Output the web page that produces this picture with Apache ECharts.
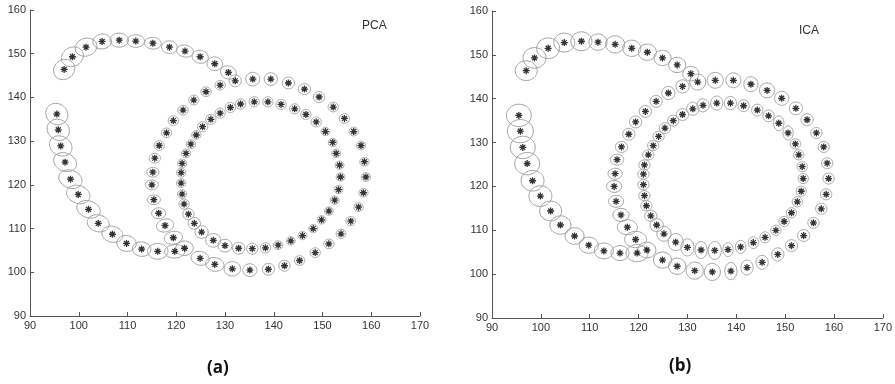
<!DOCTYPE html>
<html>
<head>
<meta charset="utf-8">
<script src="https://cdn.jsdelivr.net/npm/echarts@6/dist/echarts.min.js"></script>
<style>
  html, body { margin: 0; padding: 0; background: #fff; }
  #chart { width: 895px; height: 384px; }
</style>
</head>
<body>
<div id="chart"></div>
<script>
// estimated track (same centres in both panels): top arc, left arc, outer ring, inner ring
const trackX = [
  97.0, 98.7, 101.5, 104.8, 108.3, 111.7, 115.2, 118.6, 121.8, 124.9, 127.9, 130.7,
  95.5, 95.8, 96.3, 97.2, 98.3, 99.9, 102.0, 104.0, 106.9, 109.8, 112.9, 116.2, 119.7, 121.7,
  124.9, 127.9, 131.5, 135.1, 138.9, 142.2, 145.3, 148.5, 151.3, 153.8, 155.8, 157.4, 158.4, 158.9,
  158.6, 157.9, 156.4, 154.5, 152.2, 149.3, 146.3, 143.0, 139.4, 135.7, 132.1, 129.0, 126.1, 123.6,
  121.4, 119.4, 118.0, 116.5, 115.6, 115.2, 115.0, 115.4, 116.4, 117.7, 119.4,
  131.1, 129.0, 127.1, 125.4, 124.1, 123.0, 122.0, 121.2, 121.0, 121.0, 121.2, 121.6, 122.5, 123.7,
  125.2, 127.6, 130.0, 132.8, 135.6, 138.3, 140.9, 143.5, 145.9, 148.1, 149.8, 151.3, 152.5, 153.3,
  153.7, 153.5, 152.8, 152.1, 150.6, 148.7, 146.6, 144.3, 141.5, 138.8, 136.0, 133.2
];
const trackY = [
  146.4, 149.3, 151.5, 152.8, 153.1, 152.9, 152.4, 151.5, 150.6, 149.3, 147.7, 145.7,
  136.2, 132.6, 128.9, 125.2, 121.3, 117.8, 114.4, 111.2, 108.7, 106.6, 105.3, 104.8, 104.8, 105.5,
  103.2, 101.8, 100.8, 100.5, 100.7, 101.5, 102.7, 104.5, 106.5, 108.8, 111.7, 114.9, 118.2, 121.8,
  125.3, 129.0, 132.2, 135.2, 137.8, 140.1, 141.9, 143.3, 144.2, 144.2, 143.8, 142.8, 141.3, 139.4,
  137.1, 134.7, 131.9, 129.0, 126.1, 122.9, 120.0, 116.6, 113.5, 110.7, 107.9,
  137.7, 136.4, 135.0, 133.3, 131.4, 129.3, 127.2, 124.9, 122.8, 120.4, 117.9, 115.6, 113.3, 111.2,
  109.2, 107.3, 106.1, 105.5, 105.4, 105.6, 106.2, 107.2, 108.4, 110.0, 112.0, 114.0, 116.5, 118.9,
  121.8, 124.5, 127.2, 129.7, 132.2, 134.4, 136.1, 137.4, 138.4, 139.0, 139.0, 138.5
];

// PCA uncertainty ellipses: semi-axes (data units) and tilt (deg)
const pcaA = [
  2.4, 2.4, 2.3, 1.9, 1.9, 1.8, 1.7, 1.6, 1.75, 1.7, 1.6, 1.7,
  2.5, 2.5, 2.5, 2.5, 2.5, 2.5, 2.5, 2.3, 2.2, 2.0, 1.9, 2.1, 2.1, 1.8,
  1.9, 1.9, 1.7, 1.45, 1.25, 1.15, 1.05, 1.05, 1.05, 1.0, 1.0, 0.95, 0.95, 0.95,
  0.95, 0.95, 0.95, 1.05, 1.05, 1.15, 1.25, 1.25, 1.35, 1.45, 1.25, 1.05, 1.05, 1.05,
  1.05, 1.05, 1.05, 1.05, 1.15, 1.25, 1.35, 1.35, 1.45, 1.8, 1.9,
  1.05, 1.05, 1.05, 1.05, 0.95, 0.95, 0.95, 0.95, 0.95, 0.95, 0.95, 1.05, 1.15, 1.25,
  1.35, 1.55, 1.45, 1.25, 1.15, 1.05, 0.95, 0.9, 0.9, 0.9, 0.9, 0.9, 0.9, 0.9,
  0.9, 0.9, 0.9, 0.9, 0.9, 1.05, 1.05, 1.05, 1.05, 1.05, 1.05, 1.05
];
const pcaB = [
  2.1, 2.1, 2.0, 1.7, 1.6, 1.45, 1.35, 1.45, 1.35, 1.45, 1.55, 1.45,
  2.2, 2.2, 2.1, 2.0, 2.0, 2.0, 1.9, 1.9, 1.8, 1.8, 1.65, 1.8, 1.55, 1.65,
  1.55, 1.55, 1.65, 1.45, 1.35, 1.25, 1.1, 1.1, 1.1, 1.05, 1.05, 1.0, 1.0, 1.0,
  1.0, 1.0, 1.0, 1.1, 1.1, 1.25, 1.25, 1.35, 1.45, 1.55, 1.35, 1.1, 1.1, 1.1,
  1.1, 1.1, 1.1, 1.1, 1.1, 1.1, 1.1, 1.1, 1.25, 1.45, 1.45,
  1.15, 1.15, 1.15, 1.15, 1.0, 1.0, 1.0, 1.0, 1.0, 1.0, 1.0, 1.15, 1.25, 1.35,
  1.45, 1.55, 1.45, 1.35, 1.25, 1.15, 1.0, 0.95, 0.95, 0.95, 0.95, 0.95, 0.95, 0.95,
  0.95, 0.95, 0.95, 0.95, 0.95, 1.15, 1.15, 1.15, 1.15, 1.15, 1.15, 1.15
];
const pcaTilt = [
  60, 45, 30, 10, 0, 0, -5, -10, -15, -20, -30, -35,
  -65, -60, -45, -35, -30, -28, -25, -22, -20, -15, -8, 0, 5, 10,
  -20, -15, 0, 0, 0, 0, 0, 0, 0, 0, 0, 0, 0, 0,
  0, 0, 0, 0, 0, 0, 0, 0, 0, 0, 0, 0, 0, 0,
  0, 0, 0, 0, 0, 0, 0, 0, 0, 20, 15,
  0, 0, 0, 0, 0, 0, 0, 0, 0, 0, 0, 0, 0, 0,
  0, 0, 0, 0, 0, 0, 0, 0, 0, 0, 0, 0, 0, 0,
  0, 0, 0, 0, 0, 0, 0, 0, 0, 0, 0, 0
];

// ICA uncertainty ellipses: semi-axes (data units), axis aligned
const icaA = [
  2.25, 2.35, 2.35, 2.15, 2.15, 1.85, 1.95, 1.85, 1.85, 1.75, 1.75, 1.65,
  2.55, 2.65, 2.55, 2.55, 2.35, 2.35, 2.25, 2.15, 1.95, 1.95, 1.95, 1.85, 2.25, 1.85,
  1.85, 1.75, 1.75, 1.65, 1.25, 1.25, 1.25, 1.25, 1.25, 1.25, 1.15, 1.15, 1.15, 1.15,
  1.15, 1.15, 1.15, 1.25, 1.35, 1.45, 1.55, 1.45, 1.55, 1.65, 1.65, 1.35, 1.35, 1.25,
  1.25, 1.25, 1.25, 1.25, 1.35, 1.45, 1.55, 1.55, 1.65, 2.05, 2.25,
  1.25, 1.25, 1.15, 1.15, 1.15, 1.15, 1.15, 1.15, 1.15, 1.15, 1.15, 1.15, 1.25, 1.35,
  1.45, 1.55, 1.35, 1.25, 1.35, 1.05, 1.05, 1.05, 1.05, 1.05, 1.05, 1.05, 1.05, 1.05,
  1.05, 1.05, 1.05, 1.05, 1.05, 1.05, 1.15, 1.15, 1.15, 1.25, 1.25, 1.25
];
const icaB = [
  2.25, 2.35, 2.35, 2.15, 2.15, 1.85, 1.95, 1.85, 1.85, 1.75, 1.75, 1.65,
  2.55, 2.65, 2.55, 2.55, 2.35, 2.35, 2.25, 2.1, 1.9, 1.85, 1.8, 1.7, 1.95, 1.8,
  1.85, 1.85, 1.95, 1.95, 1.95, 1.7, 1.6, 1.5, 1.35, 1.35, 1.25, 1.25, 1.25, 1.25,
  1.25, 1.25, 1.25, 1.35, 1.45, 1.6, 1.7, 1.7, 1.7, 1.8, 1.8, 1.5, 1.5, 1.35,
  1.35, 1.35, 1.35, 1.25, 1.25, 1.25, 1.35, 1.35, 1.5, 1.7, 1.85,
  1.5, 1.35, 1.25, 1.25, 1.15, 1.15, 1.15, 1.15, 1.15, 1.15, 1.15, 1.15, 1.25, 1.5,
  1.7, 1.95, 1.95, 1.95, 2.05, 1.6, 1.5, 1.35, 1.25, 1.15, 1.15, 1.15, 1.15, 1.15,
  1.15, 1.15, 1.15, 1.15, 1.6, 1.7, 1.35, 1.35, 1.35, 1.5, 1.6, 1.5
];

const xTicks = { min: 90, max: 170, interval: 10 };
const yTicks = { min: 90, max: 160, interval: 10 };
const panelNames = ['PCA', 'ICA'];
const panelTags = ['(a)', '(b)'];

const chart = echarts.init(document.getElementById('chart'), null, { renderer: 'canvas' });

const centres = trackX.map((x, i) => [x, trackY[i]]);
const pcaEll = trackX.map((x, i) => [x, trackY[i], pcaA[i], pcaB[i], pcaTilt[i]]);
const icaEll = trackX.map((x, i) => [x, trackY[i], icaA[i], icaB[i], 0]);

function ellipseItem(params, api) {
  const cx = api.value(0), cy = api.value(1);
  const a = api.value(2), b = api.value(3);
  const r = api.value(4) * Math.PI / 180;
  const pts = [];
  for (let k = 0; k < 48; k++) {
    const t = k / 48 * Math.PI * 2;
    const ex = a * Math.cos(t), ey = b * Math.sin(t);
    pts.push(api.coord([cx + ex * Math.cos(r) - ey * Math.sin(r), cy + ex * Math.sin(r) + ey * Math.cos(r)]));
  }
  return {
    type: 'polygon',
    shape: { points: pts },
    style: { fill: 'none', stroke: '#a0a0a0', lineWidth: 1 }
  };
}

const star = 'path://M3,0L3,6M0,3L6,3M0.9,0.9L5.1,5.1M0.9,5.1L5.1,0.9';

function xAx(i) {
  return {
    gridIndex: i, type: 'value', min: xTicks.min, max: xTicks.max, interval: xTicks.interval,
    axisLine: { onZero: false, lineStyle: { color: '#555', width: 1 } },
    axisTick: { inside: true, length: 4, lineStyle: { color: '#555' } },
    splitLine: { show: false },
    axisLabel: { color: '#333', fontSize: 11, fontFamily: 'Liberation Sans', margin: 4 }
  };
}
function yAx(i) {
  return {
    gridIndex: i, type: 'value', min: yTicks.min, max: yTicks.max, interval: yTicks.interval,
    axisLine: { onZero: false, lineStyle: { color: '#555', width: 1 } },
    axisTick: { inside: true, length: 4, lineStyle: { color: '#555' } },
    splitLine: { show: false },
    axisLabel: { color: '#333', fontSize: 11, fontFamily: 'Liberation Sans', margin: 4 }
  };
}

chart.setOption({
  animation: false,
  grid: [
    { left: 30, top: 10, width: 390, height: 306 },
    { left: 492, top: 11, width: 391, height: 307 }
  ],
  xAxis: [xAx(0), xAx(1)],
  yAxis: [yAx(0), yAx(1)],
  graphic: [
    { type: 'text', left: 362, top: 20, style: { text: panelNames[0], fill: '#333', font: '12px "Liberation Sans"' } },
    { type: 'text', left: 799, top: 25, style: { text: panelNames[1], fill: '#333', font: '12px "Liberation Sans"' } },
    { type: 'text', left: 207, top: 360, style: { text: panelTags[0], fill: '#111', font: 'bold 17px "Open Sans"' } },
    { type: 'text', left: 669, top: 358, style: { text: panelTags[1], fill: '#111', font: 'bold 17px "Open Sans"' } }
  ],
  series: [
    { type: 'custom', xAxisIndex: 0, yAxisIndex: 0, data: pcaEll, renderItem: ellipseItem, silent: true, z: 2 },
    { type: 'scatter', xAxisIndex: 0, yAxisIndex: 0, data: centres, symbol: star, symbolSize: 7,
      itemStyle: { color: 'none', borderColor: '#000', borderWidth: 1.3 }, z: 3 },
    { type: 'custom', xAxisIndex: 1, yAxisIndex: 1, data: icaEll, renderItem: ellipseItem, silent: true, z: 2 },
    { type: 'scatter', xAxisIndex: 1, yAxisIndex: 1, data: centres, symbol: star, symbolSize: 7,
      itemStyle: { color: 'none', borderColor: '#000', borderWidth: 1.3 }, z: 3 }
  ]
});
</script>
</body>
</html>
